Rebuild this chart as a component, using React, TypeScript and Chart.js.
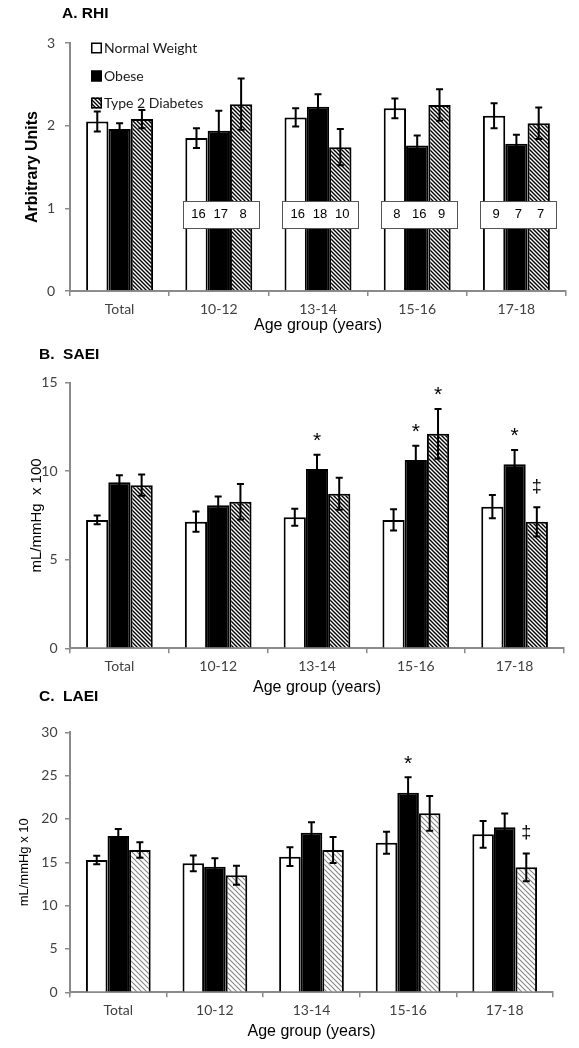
import React, { useEffect, useRef } from "react";
import { Chart, registerables } from "chart.js";

Chart.register(...registerables);

// ---------- data ----------
const categories = ["Total", "10-12", "13-14", "15-16", "17-18"];
const seriesLabels = ["Normal Weight", "Obese", "Type 2 Diabetes"];

// A. RHI
const rhiNormal = [2.05, 1.85, 2.1, 2.21, 2.12];
const rhiObese = [1.96, 1.94, 2.23, 1.76, 1.78];
const rhiT2D = [2.08, 2.26, 1.74, 2.25, 2.03];
const rhiNormalErr = [0.12, 0.12, 0.11, 0.12, 0.15];
const rhiObeseErr = [0.07, 0.24, 0.15, 0.12, 0.11];
const rhiT2DErr = [0.11, 0.31, 0.22, 0.19, 0.19];
const nNormal = [null, 16, 16, 8, 9];
const nObese = [null, 17, 18, 16, 7];
const nT2D = [null, 8, 10, 9, 7];

// B. SAEI
const saeiNormal = [7.25, 7.15, 7.4, 7.25, 8.0];
const saeiObese = [9.38, 8.08, 10.13, 10.64, 10.4];
const saeiT2D = [9.21, 8.28, 8.73, 12.11, 7.14];
const saeiNormalErr = [0.25, 0.57, 0.48, 0.6, 0.66];
const saeiObeseErr = [0.4, 0.5, 0.8, 0.8, 0.8];
const saeiT2DErr = [0.6, 1.0, 0.9, 1.4, 0.83];

// C. LAEI
const laeiNormal = [15.27, 14.88, 15.65, 17.26, 18.23];
const laeiObese = [18.03, 14.5, 18.42, 23.03, 19.04];
const laeiT2D = [16.42, 13.5, 16.42, 20.65, 14.42];
const laeiNormalErr = [0.5, 0.9, 1.08, 1.27, 1.54];
const laeiObeseErr = [0.8, 0.96, 1.2, 1.77, 1.6];
const laeiT2DErr = [0.9, 1.1, 1.5, 2.0, 1.6];

type Mark = { cat: number; series: number; symbol: string };
const saeiMarks: Mark[] = [
  { cat: 2, series: 1, symbol: "*" },
  { cat: 3, series: 1, symbol: "*" },
  { cat: 3, series: 2, symbol: "*" },
  { cat: 4, series: 1, symbol: "*" },
  { cat: 4, series: 2, symbol: "‡" },
];
const laeiMarks: Mark[] = [
  { cat: 3, series: 1, symbol: "*" },
  { cat: 4, series: 2, symbol: "‡" },
];

// ---------- styles ----------
const W = 579;
const SANS = "'Liberation Sans', Arial, sans-serif";
const CAL = "Lato, 'Open Sans', sans-serif";
const AXIS = "#8a8a8a";
const TICK = "#404040";

type Cfg = {
  top: number;
  height: number;
  area: { left: number; right: number; top: number; bottom: number };
  title: string;
  titleX: number;
  titleBase: number;
  values: number[][];
  errors: number[][];
  yMax: number;
  yStep: number;
  yTitle: string;
  yTitleFont: { family: string; size: number; weight?: any; lineHeight: number };
  yTitleX: number;
  yTickPad: number;
  xTitleY: number;
  catPct: number;
  hatch: "dark" | "light";
  legend?: boolean;
  counts?: (number | null)[][];
  marks?: Mark[];
};

function makeHatch(kind: "dark" | "light"): CanvasPattern {
  const s = kind === "dark" ? 4 : 5;
  const c = document.createElement("canvas");
  c.width = s;
  c.height = s;
  const g = c.getContext("2d")!;
  g.fillStyle = "#ffffff";
  g.fillRect(0, 0, s, s);
  g.strokeStyle = kind === "dark" ? "#000000" : "#858585";
  g.lineWidth = kind === "dark" ? 1.4 : 1.1;
  g.beginPath();
  g.moveTo(-1, -1);
  g.lineTo(s + 1, s + 1);
  g.moveTo(-1, s - 1);
  g.lineTo(1, s + 1);
  g.moveTo(s - 1, -1);
  g.lineTo(s + 1, 1);
  g.stroke();
  return g.createPattern(c, "repeat")!;
}

function Panel({ cfg }: { cfg: Cfg }) {
  const ref = useRef<HTMLCanvasElement>(null);
  useEffect(() => {
    const canvas = ref.current!;
    const p = cfg;
    const hatch = makeHatch(p.hatch);
    const fills: any[] = ["#ffffff", "#000000", hatch];

    const overlay = {
      id: "overlay",
      afterDatasetsDraw(chart: any) {
        const ctx = chart.ctx as CanvasRenderingContext2D;
        const ys = chart.scales.y;
        const xs = chart.scales.x;
        ctx.save();
        // error bars
        p.errors.forEach((errs, i) => {
          const meta = chart.getDatasetMeta(i);
          errs.forEach((e, j) => {
            const v = p.values[i][j];
            const bx = meta.data[j].x;
            const t = ys.getPixelForValue(v + e);
            const b = ys.getPixelForValue(v - e);
            ctx.strokeStyle = "#000";
            ctx.lineWidth = 2;
            ctx.beginPath();
            ctx.moveTo(bx, t);
            ctx.lineTo(bx, b);
            ctx.moveTo(bx - 3.5, t);
            ctx.lineTo(bx + 3.5, t);
            ctx.moveTo(bx - 3.5, b);
            ctx.lineTo(bx + 3.5, b);
            ctx.stroke();
          });
        });
        // n boxes
        if (p.counts) {
          const cy = ys.getPixelForValue(0.925);
          categories.forEach((_, j) => {
            if (p.counts![0][j] == null) return;
            const cx = xs.getPixelForValue(j) + 2;
            const bw = 76;
            const bh = 27;
            ctx.fillStyle = "#fff";
            ctx.fillRect(cx - bw / 2, cy - bh / 2, bw, bh);
            ctx.strokeStyle = "#555";
            ctx.lineWidth = 1;
            ctx.strokeRect(Math.round(cx - bw / 2) + 0.5, Math.round(cy - bh / 2) + 0.5, bw, bh);
            ctx.fillStyle = "#000";
            ctx.font = `13px ${SANS}`;
            ctx.textAlign = "center";
            ctx.textBaseline = "middle";
            p.counts!.forEach((arr, i) => {
              const bx = chart.getDatasetMeta(i).data[j].x;
              ctx.fillText(String(arr[j]), bx + 2, cy);
            });
          });
        }
        // significance marks
        if (p.marks) {
          p.marks.forEach((m) => {
            const bx = chart.getDatasetMeta(m.series).data[m.cat].x;
            const top = ys.getPixelForValue(p.values[m.series][m.cat] + p.errors[m.series][m.cat]);
            const cy = top - 20;
            ctx.fillStyle = "#000";
            ctx.textAlign = "center";
            ctx.textBaseline = "alphabetic";
            if (m.symbol === "*") {
              const sz = 21;
              ctx.font = `${sz}px ${SANS}`;
              ctx.fillText(m.symbol, bx, cy + 0.58 * sz);
            } else {
              const sz = 18;
              ctx.font = `${sz}px ${SANS}`;
              ctx.fillText(m.symbol, bx, cy + 0.26 * sz);
            }
          });
        }
        ctx.restore();
      },
      afterDraw(chart: any) {
        const ctx = chart.ctx as CanvasRenderingContext2D;
        ctx.save();
        ctx.fillStyle = "#000";
        ctx.font = `bold 15.5px ${SANS}`;
        ctx.textAlign = "left";
        ctx.textBaseline = "alphabetic";
        ctx.fillText(p.title, p.titleX, p.titleBase);
        if (p.legend) {
          const a = chart.chartArea;
          const rows = [5, 33, 60];
          const sx = a.left + 21;
          seriesLabels.forEach((lab, i) => {
            const cy = a.top + rows[i];
            ctx.fillStyle = fills[i];
            ctx.fillRect(sx, cy - 5.5, 11, 11);
            ctx.strokeStyle = "#000";
            ctx.lineWidth = 1.5;
            ctx.strokeRect(sx + 0.75, cy - 4.75, 9.5, 9.5);
            ctx.fillStyle = "#1a1a1a";
            ctx.font = `14px ${CAL}`;
            ctx.textBaseline = "middle";
            ctx.fillText(lab, sx + 13, cy);
          });
        }
        ctx.restore();
      },
    };

    const xLH = 16 * 1.2;
    const yLH = p.yTitleFont.size * p.yTitleFont.lineHeight;

    const chart = new Chart(canvas, {
      type: "bar",
      data: {
        labels: categories,
        datasets: p.values.map((vals, i) => ({
          label: seriesLabels[i],
          data: vals,
          backgroundColor: fills[i],
          borderColor: "#000",
          borderWidth: 2,
          barPercentage: 1,
          categoryPercentage: p.catPct,
        })),
      },
      options: {
        responsive: false,
        animation: false,
        devicePixelRatio: 1,
        events: [],
        layout: {
          padding: { left: 0, top: p.area.top, right: W - p.area.right, bottom: 0 },
        },
        plugins: {
          legend: { display: false },
          tooltip: { enabled: false },
        },
        scales: {
          x: {
            afterFit: (s: any) => {
              s.height = p.height - p.area.bottom;
            },
            grid: {
              display: true,
              drawOnChartArea: false,
              drawTicks: true,
              tickLength: 5,
              color: AXIS,
              lineWidth: 1.5,
              offset: true,
            },
            border: { display: true, color: AXIS, width: 2 },
            ticks: {
              color: TICK,
              font: { family: CAL, size: 14 },
              padding: 5,
              maxRotation: 0,
              autoSkip: false,
            },
            title: {
              display: true,
              text: "Age group (years)",
              color: "#000",
              font: { family: SANS, size: 16, lineHeight: 1.2 },
              padding: { top: 0, bottom: p.height - p.xTitleY - xLH / 2 },
            },
          },
          y: {
            min: 0,
            max: p.yMax,
            afterFit: (s: any) => {
              s.width = p.area.left;
            },
            ticks: {
              stepSize: p.yStep,
              color: TICK,
              font: { family: CAL, size: 14 },
              padding: p.yTickPad,
            },
            grid: {
              drawOnChartArea: false,
              drawTicks: true,
              tickLength: 5,
              color: AXIS,
              lineWidth: 1.5,
            },
            border: { display: true, color: AXIS, width: 2 },
            title: {
              display: true,
              text: p.yTitle,
              color: "#000",
              font: p.yTitleFont,
              padding: { top: p.yTitleX - yLH / 2, bottom: 0 },
            },
          },
        },
      } as any,
      plugins: [overlay as any],
    });
    return () => chart.destroy();
  }, [cfg]);
  return (
    <canvas
      ref={ref}
      width={W}
      height={cfg.height}
      style={{ position: "absolute", left: 0, top: cfg.top, width: W, height: cfg.height }}
    />
  );
}

const panelA: Cfg = {
  top: 0,
  height: 340,
  area: { left: 70, right: 566, top: 43, bottom: 291 },
  title: "A. RHI",
  titleX: 62,
  titleBase: 18,
  values: [rhiNormal, rhiObese, rhiT2D],
  errors: [rhiNormalErr, rhiObeseErr, rhiT2DErr],
  yMax: 3,
  yStep: 1,
  yTitle: "Arbitrary Units",
  yTitleFont: { family: SANS, size: 16, weight: "bold", lineHeight: 1.2 },
  yTitleX: 33,
  yTickPad: 10,
  xTitleY: 326,
  catPct: 0.675,
  hatch: "dark",
  legend: true,
  counts: [nNormal, nObese, nT2D],
};

const panelB: Cfg = {
  top: 330,
  height: 370,
  area: { left: 70, right: 564, top: 52.7, bottom: 318.3 },
  title: "B.  SAEI",
  titleX: 39,
  titleBase: 29.3,
  values: [saeiNormal, saeiObese, saeiT2D],
  errors: [saeiNormalErr, saeiObeseErr, saeiT2DErr],
  yMax: 15,
  yStep: 5,
  yTitle: "mL/mmHg  x 100",
  yTitleFont: { family: SANS, size: 15, lineHeight: 1.2 },
  yTitleX: 37,
  yTickPad: 7.5,
  xTitleY: 358,
  catPct: 0.675,
  hatch: "dark",
  marks: saeiMarks,
};

const panelC: Cfg = {
  top: 680,
  height: 368,
  area: { left: 70, right: 553, top: 52.3, bottom: 312.3 },
  title: "C.  LAEI",
  titleX: 39,
  titleBase: 20.7,
  values: [laeiNormal, laeiObese, laeiT2D],
  errors: [laeiNormalErr, laeiObeseErr, laeiT2DErr],
  yMax: 30,
  yStep: 5,
  yTitle: "mL/mmHg x 10",
  yTitleFont: { family: SANS, size: 13, lineHeight: 1.2 },
  yTitleX: 24,
  yTickPad: 7.5,
  xTitleY: 351.5,
  catPct: 0.67,
  hatch: "light",
  marks: laeiMarks,
};

export default function App() {
  return (
    <div style={{ position: "absolute", left: 0, top: 0, width: W, height: 1048, background: "#fff" }}>
      <Panel cfg={panelA} />
      <Panel cfg={panelB} />
      <Panel cfg={panelC} />
    </div>
  );
}
